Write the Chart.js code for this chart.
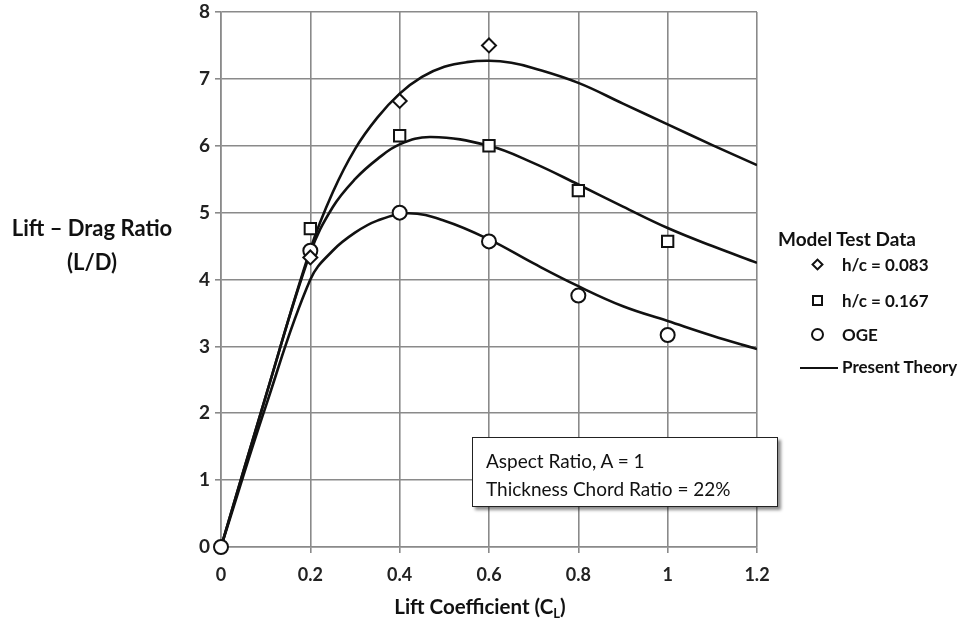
<!DOCTYPE html>
<html>
<head>
<meta charset="utf-8">
<script src="https://cdn.jsdelivr.net/npm/chart.js@4.4.1/dist/chart.umd.min.js"></script>
<style>
  html,body{margin:0;padding:0;background:#fff;}
  #wrap{position:relative;width:970px;height:628px;font-family:Lato,"Open Sans",sans-serif;color:#111;}
  canvas{position:absolute;left:0;top:0;}
  .t{position:absolute;white-space:nowrap;font-weight:700;}
  #ytitle{left:0;width:184px;top:211px;text-align:center;font-size:22px;line-height:34px;}
  #xtitle{left:330px;width:300px;top:594px;text-align:center;font-size:20.5px;}
  #xtitle sub{font-size:13px;vertical-align:-4px;}
  #legend{left:778px;top:229px;font-size:17px;}
  #legend .title{font-size:19px;position:absolute;left:0;top:-2px;}
  .row{position:absolute;left:22px;height:20px;line-height:20px;}
  .mk{position:absolute;box-sizing:border-box;border:2px solid #111;background:#fff;}
  .lbl{position:absolute;left:42px;top:0;}
  #note{position:absolute;left:472px;top:437px;width:306px;height:70px;box-sizing:border-box;border:1.5px solid #222;background:#fff;box-shadow:3px 3px 3px rgba(0,0,0,0.45);font-size:19px;padding:9px 0 0 13px;line-height:28px;}
</style>
</head>
<body>
<div id="wrap">
<canvas id="c" width="970" height="628"></canvas>
<div class="t" id="ytitle">Lift – Drag Ratio<br>(L/D)</div>
<div class="t" id="xtitle">Lift Coefficient (C<sub>L</sub>)</div>
<div class="t" id="legend">
  <div class="title">Model Test Data</div>
  <div class="row" style="top:26px;"><div class="mk" style="left:13px;top:5px;width:9px;height:9px;transform:rotate(45deg);"></div><div class="lbl">h/c = 0.083</div></div>
  <div class="row" style="top:62px;"><div class="mk" style="left:12px;top:4px;width:11px;height:11px;"></div><div class="lbl">h/c = 0.167</div></div>
  <div class="row" style="top:96px;"><div class="mk" style="left:11px;top:3px;width:13px;height:13px;border-radius:50%;"></div><div class="lbl">OGE</div></div>
  <div class="row" style="top:128px;left:22px;"><div style="position:absolute;left:0px;top:10px;width:38px;height:2px;background:#111;"></div><div class="lbl">Present Theory</div></div>
</div>
<div class="t" id="note" style="font-weight:400;">Aspect Ratio, A = 1<br>Thickness Chord Ratio = 22%</div>
</div>
<script>
// Tick values
const xTicks = [0, 0.2, 0.4, 0.6, 0.8, 1, 1.2];
const yTicks = [0, 1, 2, 3, 4, 5, 6, 7, 8];

// Model test data
const diamondX = [0.2, 0.4, 0.6];
const diamondY = [4.33, 6.67, 7.5];
const squareX = [0.2, 0.4, 0.6, 0.8, 1.0];
const squareY = [4.76, 6.15, 6.0, 5.33, 4.57];
const circleX = [0, 0.2, 0.4, 0.6, 0.8, 1.0];
const circleY = [0, 4.43, 5.0, 4.57, 3.76, 3.17];

// Present theory curves
const theoryX083 = [0, 0.1, 0.2, 0.25, 0.3, 0.35, 0.4, 0.45, 0.5, 0.55, 0.6, 0.65, 0.7, 0.8, 0.9, 1.0, 1.1, 1.2];
const theoryY083 = [0, 2.25, 4.45, 5.3, 5.95, 6.42, 6.78, 7.03, 7.18, 7.25, 7.27, 7.24, 7.16, 6.94, 6.63, 6.32, 6.01, 5.71];
const theoryX167 = [0, 0.1, 0.2, 0.25, 0.3, 0.35, 0.4, 0.47, 0.6, 0.7, 0.8, 0.9, 1.0, 1.1, 1.2];
const theoryY167 = [0, 2.25, 4.4, 5.08, 5.5, 5.8, 6.02, 6.13, 6.0, 5.74, 5.42, 5.09, 4.77, 4.5, 4.25];
const theoryXOGE = [0, 0.1, 0.2, 0.25, 0.3, 0.35, 0.42, 0.5, 0.6, 0.7, 0.8, 0.9, 1.0, 1.1, 1.2];
const theoryYOGE = [0, 2.1, 4.0, 4.43, 4.7, 4.88, 4.99, 4.88, 4.6, 4.24, 3.9, 3.6, 3.38, 3.16, 2.96];

const pts = (xs, ys) => xs.map((x, i) => ({x, y: ys[i]}));

const lineDs = (label, xs, ys) => ({
  label, data: pts(xs, ys), showLine: true, borderColor: '#111', borderWidth: 2.6,
  pointRadius: 0, tension: 0.4, fill: false, order: 2
});
const markDs = (label, xs, ys, style, r) => ({
  label, data: pts(xs, ys), showLine: false, pointStyle: style, pointRadius: r,
  pointBorderWidth: 2, pointBorderColor: '#111', pointBackgroundColor: '#fff', clip: false, order: 1
});

new Chart(document.getElementById('c'), {
  type: 'scatter',
  data: {
    datasets: [
      lineDs('Present Theory h/c = 0.083', theoryX083, theoryY083),
      lineDs('Present Theory h/c = 0.167', theoryX167, theoryY167),
      lineDs('Present Theory OGE', theoryXOGE, theoryYOGE),
      markDs('h/c = 0.083', diamondX, diamondY, 'rectRot', 7),
      markDs('h/c = 0.167', squareX, squareY, 'rect', 8),
      markDs('OGE', circleX, circleY, 'circle', 7)
    ]
  },
  options: {
    responsive: false, animation: false,
    layout: {padding: {left: 181, right: 213, top: 12, bottom: 41}},
    plugins: {legend: {display: false}, tooltip: {enabled: false}},
    scales: {
      x: {
        type: 'linear', min: 0, max: 1.2,
        afterBuildTicks: s => { s.ticks = xTicks.map(v => ({value: v})); },
        afterFit: s => { s.height = 40; s.paddingLeft = 0; s.paddingRight = 0; },
        grid: {color: '#8a8a8a', lineWidth: 1.6, tickLength: 6},
        border: {color: '#8a8a8a', width: 1.6},
        ticks: {color: '#222', padding: 11, font: {family: 'Lato', size: 18, weight: 'bold'}, maxRotation: 0,
                callback: v => String(v)}
      },
      y: {
        type: 'linear', min: 0, max: 8,
        afterBuildTicks: s => { s.ticks = yTicks.map(v => ({value: v})); },
        afterFit: s => { s.width = 40; s.paddingTop = 0; s.paddingBottom = 0; },
        grid: {color: '#8a8a8a', lineWidth: 1.6, tickLength: 6},
        border: {color: '#8a8a8a', width: 1.6},
        ticks: {color: '#222', padding: 5, font: {family: 'Lato', size: 19, weight: 'bold'},
                callback: v => String(v)}
      }
    }
  }
});
</script>
</body>
</html>
